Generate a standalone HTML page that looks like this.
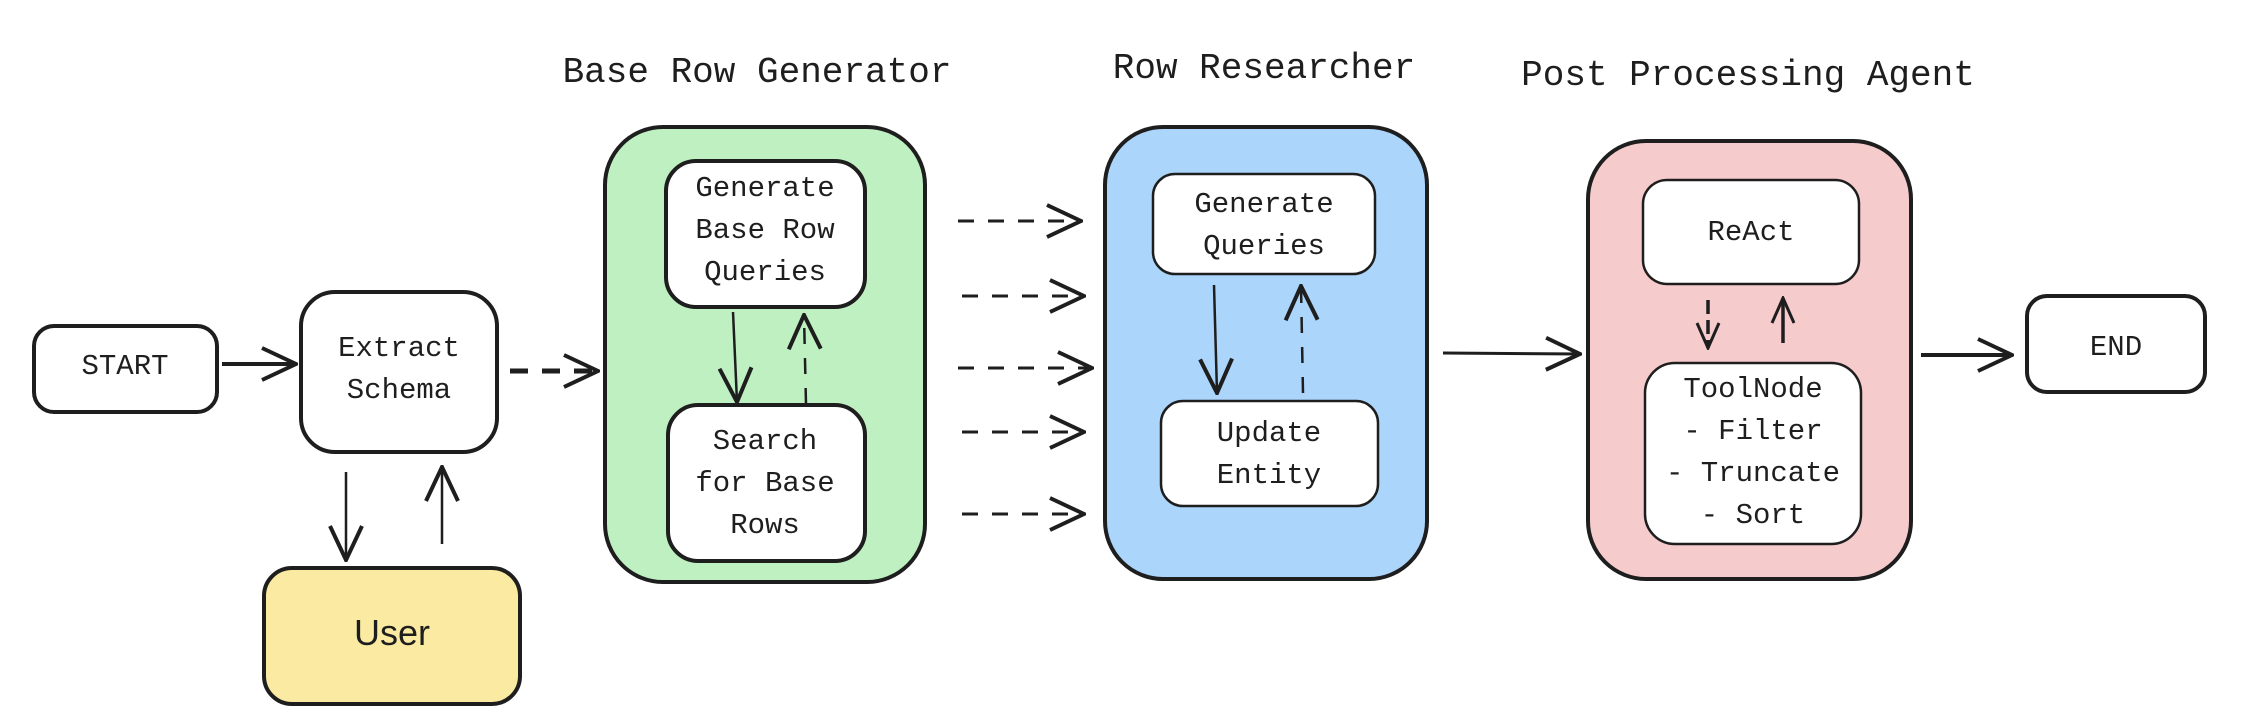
<!DOCTYPE html>
<html><head><meta charset="utf-8"><style>
html,body{margin:0;padding:0;background:#fff;}
svg{display:block}
text{font-family:"Liberation Mono","DejaVu Sans Mono",monospace;fill:#1e1e1e;text-anchor:middle;}
</style></head><body>
<svg width="2260" height="728" viewBox="0 0 2260 728" xmlns="http://www.w3.org/2000/svg">
<defs>
<marker id="a" viewBox="0 0 30 30" refX="28" refY="15" markerWidth="30" markerHeight="30" markerUnits="userSpaceOnUse" orient="auto"><path d="M3 4 L28 15 L3 26" fill="none" stroke="#1e1e1e" stroke-width="3"/></marker>
<marker id="b" viewBox="0 0 40 40" refX="38" refY="20" markerWidth="40" markerHeight="40" markerUnits="userSpaceOnUse" orient="auto"><path d="M4 4 L38 20 L4 36" fill="none" stroke="#1e1e1e" stroke-width="4"/></marker>
</defs>
<g stroke="#1e1e1e" stroke-width="4">
<rect x="605" y="127" width="320" height="455" rx="58" fill="#bff0c2"/>
<rect x="1105" y="127" width="322" height="452" rx="58" fill="#acd5fb"/>
<rect x="1588" y="141" width="323" height="438" rx="58" fill="#f6cbcb"/>
<rect x="34" y="326" width="183" height="86" rx="20" fill="#fff"/>
<rect x="301" y="292" width="196" height="160" rx="34" fill="#fff"/>
<rect x="264" y="568" width="256" height="136" rx="28" fill="#fbeba2"/>
<rect x="666" y="161" width="199" height="146" rx="30" fill="#fff"/>
<rect x="668" y="405" width="197" height="156" rx="30" fill="#fff"/>
<rect x="1153" y="174" width="222" height="100" rx="22" fill="#fff" stroke-width="2.5"/>
<rect x="1161" y="401" width="217" height="105" rx="22" fill="#fff" stroke-width="2.5"/>
<rect x="1643" y="180" width="216" height="104" rx="24" fill="#fff" stroke-width="2.5"/>
<rect x="1645" y="363" width="216" height="181" rx="30" fill="#fff" stroke-width="2.5"/>
<rect x="2027" y="296" width="178" height="96" rx="20" fill="#fff"/>
</g>
<g fill="none" stroke="#1e1e1e">
<line x1="222" y1="364" x2="296" y2="364" stroke-width="4" marker-end="url(#b)"/>
<line x1="510" y1="371" x2="598" y2="371" stroke-width="5" stroke-dasharray="18 14" marker-end="url(#b)"/>
<line x1="346" y1="472" x2="346" y2="560" stroke-width="2.5" marker-end="url(#b)"/>
<line x1="442" y1="544" x2="442" y2="467" stroke-width="2.5" marker-end="url(#b)"/>
<line x1="733" y1="312" x2="737" y2="402" stroke-width="2.5" marker-end="url(#b)"/>
<line x1="806" y1="404" x2="804" y2="315" stroke-width="2.5" stroke-dasharray="16 14" marker-end="url(#b)"/>
<g stroke-width="3" stroke-dasharray="16 14">
<line x1="958" y1="221" x2="1081" y2="221" marker-end="url(#b)"/>
<line x1="962" y1="296" x2="1084" y2="296" marker-end="url(#b)"/>
<line x1="958" y1="368" x2="1092" y2="368" marker-end="url(#b)"/>
<line x1="962" y1="432" x2="1084" y2="432" marker-end="url(#b)"/>
<line x1="962" y1="514" x2="1084" y2="514" marker-end="url(#b)"/>
</g>
<line x1="1214" y1="285" x2="1217" y2="393" stroke-width="2.5" marker-end="url(#b)"/>
<line x1="1303" y1="393" x2="1301" y2="286" stroke-width="2.5" stroke-dasharray="16 14" marker-end="url(#b)"/>
<line x1="1443" y1="353" x2="1580" y2="354" stroke-width="3" marker-end="url(#b)"/>
<line x1="1708" y1="300" x2="1708" y2="348" stroke-width="3.5" stroke-dasharray="14 6" marker-end="url(#a)"/>
<line x1="1783" y1="343" x2="1783" y2="298" stroke-width="3.5" marker-end="url(#a)"/>
<line x1="1921" y1="355" x2="2012" y2="355" stroke-width="4" marker-end="url(#b)"/>
</g>
<g font-size="36">
<text x="757" y="82">Base Row Generator</text>
<text x="1264" y="78">Row Researcher</text>
<text x="1748" y="85">Post Processing Agent</text>
</g>
<g font-size="29">
<text x="125" y="374">START</text>
<text x="399" y="356">Extract</text>
<text x="399" y="398">Schema</text>
<text x="765" y="196">Generate</text>
<text x="765" y="238">Base Row</text>
<text x="765" y="280">Queries</text>
<text x="765" y="449">Search</text>
<text x="765" y="491">for Base</text>
<text x="765" y="533">Rows</text>
<text x="1264" y="212">Generate</text>
<text x="1264" y="254">Queries</text>
<text x="1269" y="441">Update</text>
<text x="1269" y="483">Entity</text>
<text x="1751" y="240">ReAct</text>
<text x="1753" y="397">ToolNode</text>
<text x="1753" y="439">- Filter</text>
<text x="1753" y="481">- Truncate</text>
<text x="1753" y="523">- Sort</text>
<text x="2116" y="355">END</text>
</g>
<text x="392" y="645" font-size="36" style="font-family:'Liberation Sans',sans-serif">User</text>
</svg>
</body></html>
